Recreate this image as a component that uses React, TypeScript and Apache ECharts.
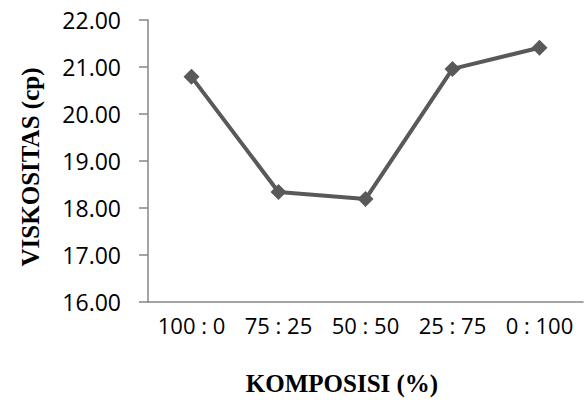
import React, { useEffect, useRef } from "react";
import * as echarts from "echarts";

const categories = ["100 : 0", "75 : 25", "50 : 50", "25 : 75", "0 : 100"];
const viscosity = [20.79, 18.34, 18.19, 20.96, 21.41];
const yTitle = "VISKOSITAS (cp)";
const xTitle = "KOMPOSISI (%)";

export default function App() {
  const ref = useRef<HTMLDivElement>(null);
  useEffect(() => {
    const chart = echarts.init(ref.current!, null, { renderer: "svg" });
    chart.setOption({
      animation: false,
      backgroundColor: "#ffffff",
      grid: { left: 148, right: 2, top: 20, bottom: 108, containLabel: false },
      xAxis: {
        type: "category",
        data: categories,
        boundaryGap: true,
        axisLine: { lineStyle: { color: "#868686", width: 1.5 } },
        axisTick: { show: false },
        axisLabel: {
          color: "#000000",
          fontFamily: "Open Sans",
          fontSize: 22,
          margin: 12,
          interval: 0,
          hideOverlap: false,
        },
      },
      yAxis: {
        type: "value",
        min: 16,
        max: 22,
        interval: 1,
        splitLine: { show: false },
        axisLine: { show: true, lineStyle: { color: "#868686", width: 1.5 } },
        axisTick: { show: true, length: 9, lineStyle: { color: "#868686", width: 1.5 } },
        axisLabel: {
          color: "#000000",
          fontFamily: "Open Sans",
          fontSize: 23,
          margin: 27,
          formatter: (v: number) => v.toFixed(2),
        },
      },
      graphic: [
        {
          type: "text",
          x: 30,
          y: 167,
          rotation: Math.PI / 2,
          style: {
            text: yTitle,
            fill: "#000000",
            font: "bold 25px 'Liberation Serif'",
            align: "center",
            verticalAlign: "middle",
          },
        },
        {
          type: "text",
          x: 342,
          y: 383,
          style: {
            text: xTitle,
            fill: "#000000",
            font: "bold 25px 'Liberation Serif'",
            align: "center",
            verticalAlign: "middle",
          },
        },
      ],
      series: [
        {
          type: "line",
          data: viscosity,
          symbol: "diamond",
          symbolSize: 16,
          lineStyle: { color: "#595959", width: 4 },
          itemStyle: { color: "#595959" },
        },
      ],
    });
    return () => chart.dispose();
  }, []);
  return <div ref={ref} style={{ width: 585, height: 410, position: "absolute", left: 0, top: 0 }} />;
}
